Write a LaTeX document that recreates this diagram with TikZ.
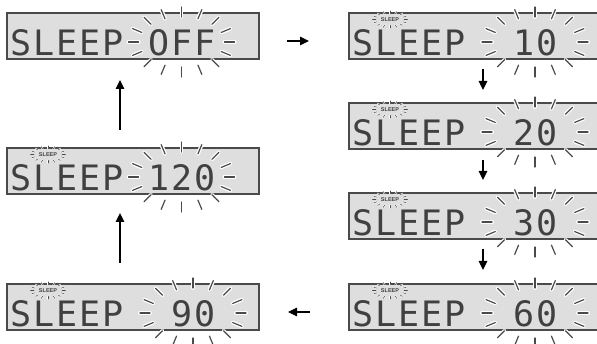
\documentclass[tikz,border=0pt]{standalone}
\usepackage{fontspec}
\usetikzlibrary{arrows.meta,calc}
\newfontfamily\lcdfont[LetterSpace=5.5]{DejaVu Sans Mono}
\newfontfamily\indfont{Liberation Sans}
\definecolor{lcdbg}{HTML}{DEDEDE}
\definecolor{lcdline}{HTML}{4A4A4A}
\definecolor{lcdtext}{HTML}{404040}
\tikzset{
  lcd/.style={draw=lcdline, fill=lcdbg, line width=1.2pt, minimum height=46pt, inner sep=0pt, outer sep=0pt, anchor=north west},
  lcdtxt/.style={anchor=base west, inner sep=0pt, text=lcdtext, font=\lcdfont\fontsize{35}{38}\selectfont},
  raybg/.style={white, line width=3.8pt, line cap=round},
  rayfg/.style={lcdline, line width=1.2pt, line cap=round},
  sraybg/.style={white, line width=1.6pt, line cap=round},
  srayfg/.style={lcdline, line width=0.55pt, line cap=round},
  flow/.style={line width=1.2pt, -{Triangle[length=9pt,width=8.5pt]}},
  ind/.style={font=\indfont\bfseries\fontsize{5.5}{6}\selectfont, inner sep=0pt, text=lcdtext}
}
\newcommand\flashrays[1]{%
  \foreach \t in {0,22.5,...,337.5}{
    \draw[raybg] ($(#1)+({43*cos(\t)},{25*sin(\t)})$) -- ($(#1)+({53*cos(\t)},{35*sin(\t)})$);
  }
  \foreach \t in {0,22.5,...,337.5}{
    \draw[rayfg] ($(#1)+({43*cos(\t)},{25*sin(\t)})$) -- ($(#1)+({53*cos(\t)},{35*sin(\t)})$);
  }}
\newcommand\indrays[1]{%
  \foreach \t in {0,22.5,...,337.5}{
    \draw[sraybg] ($(#1)+({14*cos(\t)},{6*sin(\t)})$) -- ($(#1)+({17.5*cos(\t)},{8.5*sin(\t)})$);
  }
  \foreach \t in {0,22.5,...,337.5}{
    \draw[srayfg] ($(#1)+({14*cos(\t)},{6*sin(\t)})$) -- ($(#1)+({17.5*cos(\t)},{8.5*sin(\t)})$);
  }}
% #1 name, #2 x, #3 y, #4 width, #5 value, #6 first cell of value, #7 flash x offset, #8 indicator (1/0)
\newcommand\lcdpanel[8]{%
  \node[lcd, minimum width=#4] (#1) at (#2,#3) {};
  \node[lcdtxt] (#1s) at ($(#1.north west)+(3,42.5)$) {SLEEP};
  \node[lcdtxt] (#1v) at ($(#1.north west)+(3+23*#6,42.5)$) {#5};
  \coordinate (#1f) at ($(#1.north west)+(#7,29)$);
  \flashrays{#1f}
  \ifnum#8=1
    \coordinate (#1i) at ($(#1.north west)+(41,6.5)$);
    \indrays{#1i}
    \node[ind] (#1it) at (#1i) {SLEEP};
  \fi
}
\begin{document}
\begin{tikzpicture}[x=1pt,y=-1pt]
\useasboundingbox (0,0) rectangle (597,344);
\clip (0,0) rectangle (597,344);
\lcdpanel{bOFF}{7}{13}{252}{OFF}{6}{174.5}{0}
\lcdpanel{bA}{349}{13}{262}{10}{7}{186}{1}
\lcdpanel{bB}{349}{103}{262}{20}{7}{186}{1}
\lcdpanel{bC}{349}{193}{262}{30}{7}{186}{1}
\lcdpanel{bD}{349}{284}{262}{60}{7}{186}{1}
\lcdpanel{bE}{7}{284}{252}{90}{7}{186}{1}
\lcdpanel{bF}{7}{148}{252}{120}{6}{174.5}{1}
\coordinate (axR) at (483,0);
\coordinate (axL) at (120,0);
\draw[flow] ($(bOFF.north east)+(28,28)$) -- ($(bA.north west)+(-40,28)$);
\draw[flow] ($(bA.south -| axR)+(0,10)$) -- ($(bB.north -| axR)+(0,-13)$);
\draw[flow] ($(bB.south -| axR)+(0,11)$) -- ($(bC.north -| axR)+(0,-13)$);
\draw[flow] ($(bC.south -| axR)+(0,10)$) -- ($(bD.north -| axR)+(0,-14)$);
\draw[flow] ($(bD.south west)+(-39,-18)$) -- ($(bE.south east)+(29,-18)$);
\draw[flow] ($(bE.north -| axL)+(0,-21)$) -- ($(bF.south -| axL)+(0,19)$);
\draw[flow] ($(bF.north -| axL)+(0,-18)$) -- ($(bOFF.south -| axL)+(0,21)$);
\end{tikzpicture}
\end{document}
